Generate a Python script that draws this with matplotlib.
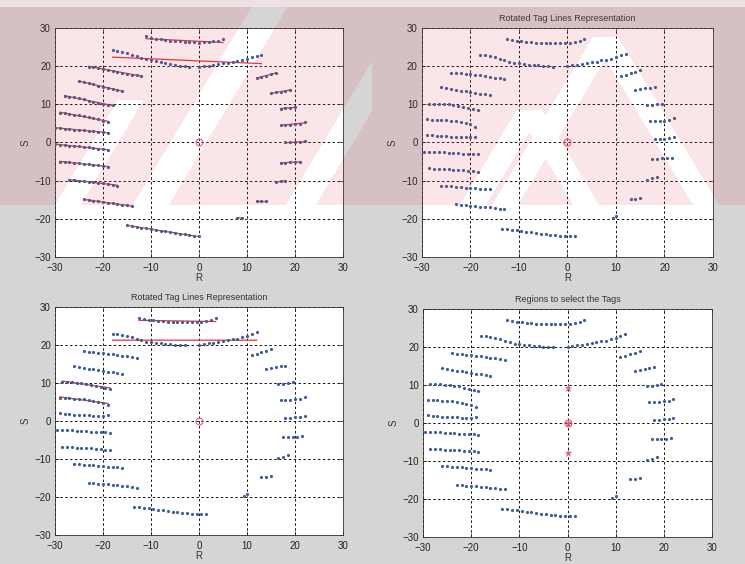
"""Tag line detection figure: raw tag lines with fits, rotated tag lines,
rotated lines with fits, and the selection regions."""
import numpy as np
import matplotlib
matplotlib.use("Agg")
import matplotlib.pyplot as plt

plt.rcParams["font.family"] = ["Liberation Sans", "DejaVu Sans"]

# ---- raw (unrotated) tag lines, top-left panel ----
raw_r = [
    [-11, -10, -9, -8, -7, -6, -5, -4, -3, -2, -1, 0, 1, 2, 3, 4, 5],
    [-18, -17, -16, -15, -14, -13, -12, -11, -10, -9, -8, -7, -6, -5, -4, -3,
     -2, 0, 1, 2, 3, 4, 5, 6, 7, 8, 9, 10, 11, 12, 13],
    [-23, -22, -21, -20, -19, -18, -17, -16, -15, -14, -13, -12],
    [-25, -24, -23, -22, -21, -20, -19, -18, -17, -16],
    [-28, -27, -26, -25, -24, -23, -22, -21, -20, -19, -18],
    [-29, -28, -27, -26, -25, -24, -23, -22, -21, -20, -19],
    [-30, -29, -28, -27, -26, -25, -24, -23, -22, -21, -20, -19],
    [-30, -29, -28, -27, -26, -25, -24, -23, -22, -21, -20, -19],
    [-29, -28, -27, -26, -25, -24, -23, -22, -21, -20, -19],
    [-27, -26, -25, -24, -23, -22, -21, -20, -19, -18, -17],
    [-24, -23, -22, -21, -20, -19, -18, -17, -16, -15, -14],
    [-15, -14, -13, -12, -11, -10, -9, -8, -7, -6, -5, -4, -3, -2, -1, 0],
    [12, 13, 14, 15, 16],
    [15, 16, 17, 18, 19],
    [17, 18, 19, 20],
    [17, 18, 19, 20, 21, 22],
    [18, 19, 20, 21, 22],
    [17, 18, 19, 20, 21],
    [16, 17, 18],
    [12, 13, 14],
    [8, 9],
]
raw_s = [
    [27.9, 27.5, 27.2, 27.0, 26.8, 26.7, 26.6, 26.5, 26.4, 26.3, 26.2, 26.1,
     26.2, 26.3, 26.5, 26.7, 27.0],
    [24.1, 24.0, 23.8, 23.5, 23.0, 22.6, 22.2, 21.9, 21.6, 21.3, 21.1, 20.8,
     20.6, 20.3, 20.1, 20.0, 19.9, 19.9, 20.0, 20.1, 20.3, 20.5, 20.7, 20.9,
     21.1, 21.3, 21.6, 21.9, 22.3, 22.6, 22.9],
    [19.9, 19.7, 19.5, 19.3, 19.1, 18.8, 18.5, 18.3, 18.0, 17.8, 17.6, 17.5],
    [16.1, 15.8, 15.5, 15.2, 14.9, 14.6, 14.3, 14.0, 13.8, 13.5],
    [12.1, 12.0, 11.8, 11.6, 11.3, 11.0, 10.7, 10.4, 10.1, 9.9, 9.7],
    [7.8, 7.6, 7.4, 7.3, 7.1, 6.9, 6.7, 6.4, 6.1, 5.7, 5.3],
    [3.9, 3.8, 3.6, 3.5, 3.4, 3.3, 3.2, 3.0, 2.9, 2.8, 2.7, 2.6],
    [-0.5, -0.6, -0.7, -0.8, -0.9, -1.0, -1.1, -1.3, -1.4, -1.6, -1.8, -2.0],
    [-5.0, -5.1, -5.2, -5.3, -5.5, -5.6, -5.7, -5.8, -6.0, -6.2, -6.4],
    [-9.8, -9.9, -10.0, -10.1, -10.3, -10.4, -10.6, -10.7, -10.9, -11.1, -11.3],
    [-14.9, -15.1, -15.3, -15.4, -15.6, -15.8, -15.9, -16.1, -16.3, -16.5, -16.7],
    [-21.7, -21.9, -22.1, -22.3, -22.5, -22.7, -22.9, -23.1, -23.3, -23.5,
     -23.7, -23.9, -24.1, -24.3, -24.5, -24.6],
    [16.9, 17.2, 17.5, 17.9, 18.2],
    [12.9, 13.1, 13.3, 13.5, 13.8],
    [8.9, 9.0, 9.1, 9.2],
    [4.6, 4.6, 4.7, 4.8, 4.9, 5.3],
    [0.0, 0.0, 0.0, 0.1, 0.3],
    [-5.3, -5.3, -5.2, -5.2, -5.0],
    [-10.4, -10.2, -10.0],
    [-15.3, -15.3, -15.3],
    [-19.7, -19.8],
]

# ---- rotated tag lines (shared by the other three panels) ----
rot_r = [
    [-12.5, -11.5, -10.5, -9.5, -8.5, -7.5, -6.5, -5.5, -4.5, -3.5, -2.5,
     -1.5, -0.5, 0.5, 1.5, 2.5, 3.5],
    [-18, -17, -16, -15, -14, -13, -12, -11, -10, -9, -8, -7, -6, -5, -4, -3,
     0, 1, 2, 3, 4, 5, 6, 7, 8, 9, 10, 11, 12],
    [-24, -23, -22, -21, -20, -19, -18, -17, -16, -15, -14, -13],
    [-26, -25, -24, -23, -22, -21, -20, -19, -18, -17, -16],
    [-28.5, -27.5, -26.5, -25.5, -24.5, -23.5, -22.5, -21.5, -20.5, -19.5, -18.5],
    [-29, -28, -27, -26, -25, -24, -23, -22, -21, -20, -19],
    [-29, -28, -27, -26, -25, -24, -23, -22, -21, -20, -19],
    [-29.5, -28.5, -27.5, -26.5, -25.5, -24.5, -23.5, -22.5, -21.5, -20.5,
     -19.5, -18.5],
    [-28.5, -27.5, -26.5, -25.5, -24.5, -23.5, -22.5, -21.5, -20.5, -19.5, -18.5],
    [-26, -25, -24, -23, -22, -21, -20, -19, -18, -17, -16],
    [-23, -22, -21, -20, -19, -18, -17, -16, -15, -14, -13],
    [-13.5, -12.5, -11.5, -10.5, -9.5, -8.5, -7.5, -6.5, -5.5, -4.5, -3.5,
     -2.5, -1.5, -0.5, 0.5, 1.5],
    [11, 12, 13, 14, 15],
    [14, 15, 16, 17, 18],
    [16.5, 17.5, 18.5, 19.5],
    [17, 18, 19, 20, 21, 22],
    [18, 19, 20, 21, 22],
    [17.5, 18.5, 19.5, 20.5, 21.5],
    [16.5, 17.5, 18.5],
    [13, 14, 15],
    [9.3, 10],
]
rot_s = [
    [27.1, 26.8, 26.6, 26.5, 26.3, 26.2, 26.1, 26.0, 26.0, 26.0, 26.0, 26.0,
     26.0, 26.1, 26.3, 26.6, 27.0],
    [22.9, 22.8, 22.7, 22.4, 22.0, 21.6, 21.2, 20.9, 20.7, 20.5, 20.4, 20.3,
     20.2, 20.1, 20.0, 19.9, 20.0, 20.2, 20.4, 20.6, 20.8, 21.0, 21.2, 21.5,
     21.7, 22.0, 22.4, 22.9, 23.3],
    [18.3, 18.2, 18.1, 18.0, 17.9, 17.7, 17.6, 17.4, 17.2, 17.0, 16.8, 16.6],
    [14.5, 14.2, 14.0, 13.8, 13.6, 13.4, 13.2, 13.0, 12.8, 12.6, 12.4],
    [10.2, 10.2, 10.2, 10.1, 10.0, 9.8, 9.6, 9.3, 9.0, 8.7, 8.5],
    [6.1, 6.0, 6.0, 5.9, 5.8, 5.7, 5.5, 5.3, 5.1, 4.8, 4.1],
    [2.0, 1.9, 1.8, 1.7, 1.6, 1.5, 1.5, 1.4, 1.4, 1.4, 1.5],
    [-2.4, -2.4, -2.5, -2.5, -2.6, -2.7, -2.7, -2.8, -2.9, -3.0, -3.0, -3.1],
    [-6.8, -6.9, -6.9, -7.0, -7.0, -7.1, -7.2, -7.3, -7.4, -7.5, -7.7],
    [-11.3, -11.4, -11.5, -11.6, -11.7, -11.8, -11.9, -12.0, -12.1, -12.2, -12.3],
    [-16.2, -16.3, -16.5, -16.6, -16.7, -16.8, -16.9, -17.0, -17.2, -17.3, -17.5],
    [-22.6, -22.7, -22.9, -23.0, -23.2, -23.4, -23.5, -23.7, -23.9, -24.0,
     -24.2, -24.3, -24.4, -24.5, -24.5, -24.6],
    [17.3, 17.7, 18.1, 18.5, 18.9],
    [13.7, 13.9, 14.2, 14.4, 14.6],
    [9.7, 9.8, 10.0, 10.2],
    [5.6, 5.6, 5.6, 5.7, 5.8, 6.3],
    [0.8, 0.9, 1.0, 1.1, 1.4],
    [-4.3, -4.2, -4.1, -4.1, -4.0],
    [-9.7, -9.4, -9.0],
    [-14.8, -14.7, -14.6],
    [-19.8, -19.3],
]

# lines of the rotated set whose fit is drawn in the bottom-left panel
rot_fitted = [0, 1, 4, 5]

# region centres used to select the tags (bottom-right panel)
region_r = [0, 0, 0]
region_s = [9.3, 0, -7.8]

TITLE = "Rotated Tag Lines Representation"
TITLE_REGIONS = "Regions to select the Tags"
TICKS = [-30, -20, -10, 0, 10, 20, 30]

DOT = "#3d5f93"
RED = "#e8323c"
PINK = "#e4607e"
BG = "#d5d5d5"


def style_axes(ax, title=None):
    ax.set_xlim(-30, 30)
    ax.set_ylim(-30, 30)
    ax.set_xticks(TICKS)
    ax.set_yticks(TICKS)
    ax.tick_params(direction="in", length=3, width=0.5, labelsize=7,
                   colors="#222222", top=True, right=True)
    ax.tick_params(axis="x", pad=4)
    ax.tick_params(axis="y", pad=3)
    ax.grid(True, color="#111111", ls=(0, (2.5, 2.5)), lw=0.7)
    for sp in ax.spines.values():
        sp.set_linewidth(0.6)
        sp.set_color("#333333")
    ax.set_xlabel("R", fontsize=7, color="#333333", labelpad=0)
    ax.set_ylabel("S", fontsize=7, color="#333333", labelpad=3)
    if title:
        ax.set_title(title, fontsize=6.5, color="#333333", pad=5)


def draw_lines(ax, rs, ss, fitted=()):
    for i, (r, s) in enumerate(zip(rs, ss)):
        if i in fitted:
            k, b = np.polyfit(r, s, 1)
            xs = np.array([min(r), max(r)])
            ax.plot(xs, k * xs + b, color=RED, lw=0.9, zorder=2)
        ax.plot(r, s, "o", color=DOT, ms=2.3, mew=0, zorder=3)
    ax.plot(0, 0, "o", mfc="none", mec=PINK, ms=5, mew=0.8, zorder=4)


def watermark(h=564, w=745):
    # the scan carries a pale pink diagonal watermark over its top band
    yy, xx = np.mgrid[0:h, 0:w]
    zone = yy < 205
    left = xx < 372
    white = np.zeros_like(zone)
    for c, width, ymin in [(67, 26, 100), (150, 36, 0), (300, 30, 0)]:
        centre = c + 0.6 * (205 - yy)
        white |= (np.abs(xx - centre) < width / 2) & (yy >= ymin) & left
    for ax_, ay_, width in [(529, 110, 26), (605, 37, 26)]:
        dy = yy - ay_
        legs = (np.abs(xx - (ax_ - 0.6 * dy)) < width / 2) | \
               (np.abs(xx - (ax_ + 0.6 * dy)) < width / 2)
        white |= legs & (yy >= ay_) & ~left
    mask = zone & ~white
    img = np.zeros((h, w, 4))
    img[..., 0], img[..., 1], img[..., 2] = 0.86, 0.25, 0.32
    img[..., 3] = 0.13 * mask
    # very top edge of the scan is pale
    top = yy < 7
    img[top] = [0.98, 0.9, 0.91, 0.75]
    return img


def main():
    fig = plt.figure(figsize=(7.45, 5.64), dpi=100, facecolor=BG)

    ax_tl = fig.add_axes([0.0738, 0.5443, 0.3866, 0.4061])
    ax_tr = fig.add_axes([0.5664, 0.5443, 0.3906, 0.4061])
    ax_bl = fig.add_axes([0.0738, 0.0514, 0.3866, 0.4043])
    ax_br = fig.add_axes([0.5678, 0.0479, 0.3879, 0.4043])

    draw_lines(ax_tl, raw_r, raw_s, fitted=range(len(raw_r)))
    style_axes(ax_tl)

    draw_lines(ax_tr, rot_r, rot_s)
    style_axes(ax_tr, TITLE)

    draw_lines(ax_bl, rot_r, rot_s, fitted=rot_fitted)
    style_axes(ax_bl, TITLE)

    draw_lines(ax_br, rot_r, rot_s)
    ax_br.plot(region_r, region_s, "*", color=PINK, ms=5, mew=0.5, zorder=4)
    style_axes(ax_br, TITLE_REGIONS)

    fig.figimage(watermark(), xo=0, yo=0, origin="upper", zorder=10)
    fig.savefig("out.png", dpi=100, facecolor=BG)
    plt.close(fig)


if __name__ == "__main__":
    main()
